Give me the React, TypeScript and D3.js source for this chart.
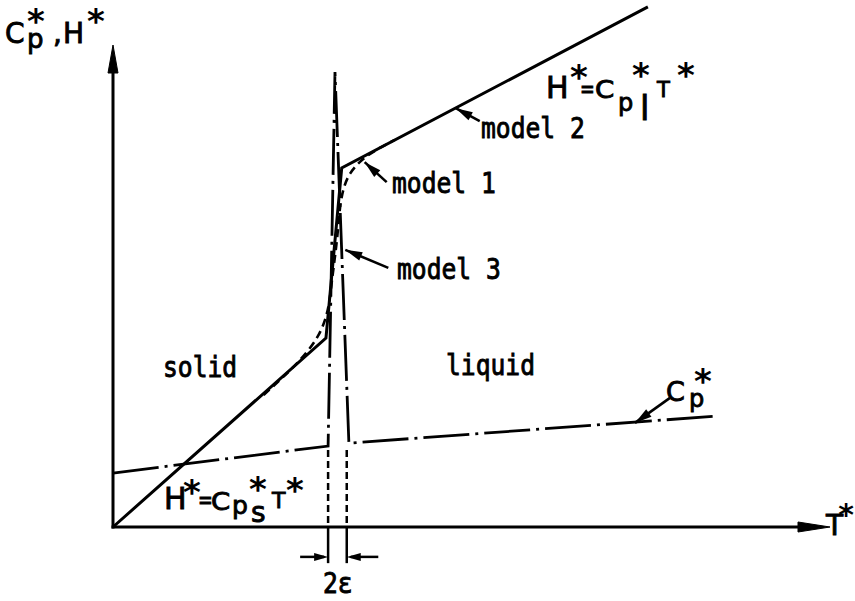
import React from 'react';
import * as d3 from 'd3';

const WIDTH = 855;
const HEIGHT = 601;

// Dimensionless temperature T* and the quantities Cp*, H* (arbitrary units)
const tExtent = [0, 10];
const vExtent = [0, 10];

// Enthalpy, model 2: piecewise linear through the melting range
const enthalpyT = [0, 2.97, 3.19, 7.46];
const enthalpyH = [0, 3.92, 7.45, 10.79];

// Enthalpy, model 1: smoothed transition (B-spline control points)
const smoothT = [2.1, 2.97, 3.04, 3.15, 3.19, 3.93];
const smoothH = [2.74, 3.92, 5.02, 6.16, 7.45, 8.03];

// Heat capacity with the latent-heat spike, model 3
const cpT = [0, 3.0, 3.096, 3.29, 8.41];
const cpV = [1.12, 1.68, 9.44, 1.74, 2.3];

// Melting band T_m ± ε
const meltT = 3.13;
const epsilon = 0.13;

// Leader arrows: tip in data units, tail offset in px
const leaderNames = ['model 2', 'model 1', 'model 3', 'Cp'];
const leaderTipT = [4.78, 3.51, 3.24, 7.28];
const leaderTipV = [8.69, 7.57, 5.75, 2.16];
const leaderDx = [24, 22, 43, 35];
const leaderDy = [13, 20, 18, -25];

const x = d3.scaleLinear().domain(tExtent).range([113, 830]);
const y = d3.scaleLinear().domain(vExtent).range([527, 45]);

const MONO = '"DejaVu Sans Mono", monospace';
const SANS = '"DejaVu Sans", sans-serif';

function head(tx: number, ty: number, fx: number, fy: number, len: number, half: number) {
  const a = Math.atan2(ty - fy, tx - fx);
  const bx = tx - len * Math.cos(a);
  const by = ty - len * Math.sin(a);
  const nx = -Math.sin(a);
  const ny = Math.cos(a);
  return `M${tx},${ty}L${bx + nx * half},${by + ny * half}L${bx - nx * half},${by - ny * half}Z`;
}

type TxtProps = {
  x: number;
  y: number;
  size?: number;
  sx?: number;
  mono?: boolean;
  children: React.ReactNode;
};

function Txt({ x: px, y: py, size = 28, sx = 0.88, mono = true, children }: TxtProps) {
  return (
    <text
      transform={`translate(${px},${py}) scale(${sx},1)`}
      fontFamily={mono ? MONO : SANS}
      fontSize={size}
      fill="#000"
      stroke="#000"
      strokeWidth={0.9}
    >
      {children}
    </text>
  );
}

// Letter of a formula, in the proportional face
function Sym(props: TxtProps) {
  return <Txt sx={1} mono={false} {...props} />;
}

function Star({ cx, top, size = 34 }: { cx: number; top: number; size?: number }) {
  return (
    <text
      x={cx}
      y={top + size * 0.76}
      textAnchor="middle"
      fontFamily={SANS}
      fontWeight="bold"
      fontSize={size}
      fill="#000"
    >
      *
    </text>
  );
}

export default function App() {
  const enthalpyPath =
    d3
      .line<number>()
      .x((_, i) => x(enthalpyT[i]))
      .y((d) => y(d))(enthalpyH) || '';

  const smoothPath =
    d3
      .line<number>()
      .x((_, i) => x(smoothT[i]))
      .y((d) => y(d))
      .curve(d3.curveBasis)(smoothH) || '';

  const cpPath =
    d3
      .line<number>()
      .x((_, i) => x(cpT[i]))
      .y((d) => y(d))(cpV) || '';

  const x0 = x(0);
  const y0 = y(0);
  const yTop = y(vExtent[1]);
  const xEnd = x(tExtent[1]);

  const bandL = x(meltT - epsilon);
  const bandR = x(meltT + epsilon);
  const bandTop = y(1.6);
  const bandBottom = y(-0.75);
  const dimY = y(-0.62);
  const dimLeftTail = x(meltT - epsilon - 0.39);
  const dimRightTail = x(meltT + epsilon + 0.44);

  return (
    <svg
      width={WIDTH}
      height={HEIGHT}
      viewBox={`0 0 ${WIDTH} ${HEIGHT}`}
      style={{ position: 'absolute', left: 0, top: 0, background: '#fff' }}
    >
      <rect width={WIDTH} height={HEIGHT} fill="#fff" />

      {/* axes */}
      <g stroke="#000" strokeWidth={3} fill="#000">
        <line x1={x0} y1={y0 + 1.5} x2={x0} y2={yTop + 20} />
        <path d={head(x0, yTop, x0, y0, 28, 5)} strokeWidth={1} />
        <line x1={x0 - 1.5} y1={y0} x2={xEnd - 20} y2={y0} />
        <path d={head(xEnd, y0, x0, y0, 32, 5)} strokeWidth={1} />
      </g>

      {/* melting band limits */}
      <g stroke="#000" strokeWidth={2.5}>
        <line x1={bandL} y1={bandTop} x2={bandL} y2={y0} strokeDasharray="7 4" />
        <line x1={bandR} y1={bandTop} x2={bandR} y2={y0} strokeDasharray="7 4" />
        <line x1={bandL} y1={y0} x2={bandL} y2={bandBottom} />
        <line x1={bandR} y1={y0} x2={bandR} y2={bandBottom} />
        <line x1={dimLeftTail} y1={dimY} x2={bandL - 4} y2={dimY} />
        <line x1={dimRightTail} y1={dimY} x2={bandR + 4} y2={dimY} />
      </g>
      <g fill="#000">
        <path d={head(bandL, dimY, dimLeftTail, dimY, 14, 4)} />
        <path d={head(bandR, dimY, dimRightTail, dimY, 14, 4)} />
      </g>

      {/* heat capacity (dash-dot) */}
      <path
        d={cpPath}
        fill="none"
        stroke="#000"
        strokeWidth={2.8}
        strokeDasharray="46 6 3 6"
        strokeLinejoin="miter"
      />

      {/* enthalpy, model 1 */}
      <path d={smoothPath} fill="none" stroke="#000" strokeWidth={2.6} strokeDasharray="8 5" />

      {/* enthalpy, model 2 */}
      <path d={enthalpyPath} fill="none" stroke="#000" strokeWidth={3} strokeLinejoin="miter" />

      {/* leader arrows */}
      <g>
        {leaderNames.map((n, i) => {
          const tx = x(leaderTipT[i]);
          const ty = y(leaderTipV[i]);
          const fx = tx + leaderDx[i];
          const fy = ty + leaderDy[i];
          return (
            <g key={n}>
              <line x1={fx} y1={fy} x2={tx} y2={ty} stroke="#000" strokeWidth={2.6} />
              <path d={head(tx, ty, fx, fy, 17, 4.5)} fill="#000" />
            </g>
          );
        })}
      </g>

      {/* axis labels */}
      <Sym x={5} y={43} size={28}>C</Sym>
      <Sym x={27} y={48} size={26}>p</Sym>
      <Star cx={36} top={7} />
      <Sym x={53} y={43} size={28}>,</Sym>
      <Sym x={63} y={43} size={28}>H</Sym>
      <Star cx={96} top={7} />

      <Sym x={826} y={535} size={28}>T</Sym>
      <Star cx={846} top={502} size={30} />

      {/* region labels */}
      <Txt x={163} y={377}>solid</Txt>
      <Txt x={446} y={375}>liquid</Txt>

      {/* model labels */}
      <Txt x={481} y={138}>model 2</Txt>
      <Txt x={392} y={193}>model 1</Txt>
      <Txt x={397} y={279}>model 3</Txt>

      {/* H* = Cp_l* T* */}
      <Sym x={546} y={98} size={30}>H</Sym>
      <Star cx={579} top={63} />
      <Txt x={581} y={97} size={24}>=</Txt>
      <Sym x={595} y={98} size={24} sx={1.15}>C</Sym>
      <Sym x={618} y={111} size={24}>p</Sym>
      <Star cx={641} top={61} />
      <Sym x={640} y={120} size={34}>l</Sym>
      <Sym x={657} y={97} size={21}>T</Sym>
      <Star cx={686} top={61} />

      {/* H* = Cp_s* T* */}
      <Sym x={164} y={509} size={30}>H</Sym>
      <Star cx={192} top={478} />
      <Txt x={199} y={508} size={24}>=</Txt>
      <Sym x={211} y={510} size={25} sx={1.1}>C</Sym>
      <Sym x={232} y={514} size={25}>p</Sym>
      <Sym x={251} y={522} size={28}>s</Sym>
      <Star cx={258} top={475} />
      <Sym x={272} y={508} size={22}>T</Sym>
      <Star cx={295} top={476} />

      {/* Cp* next to its curve */}
      <Sym x={666} y={401} size={27}>C</Sym>
      <Sym x={689} y={407} size={24}>p</Sym>
      <Star cx={703} top={367} />

      {/* melting band width */}
      <Txt x={323} y={593} size={28}>2ε</Txt>
    </svg>
  );
}
